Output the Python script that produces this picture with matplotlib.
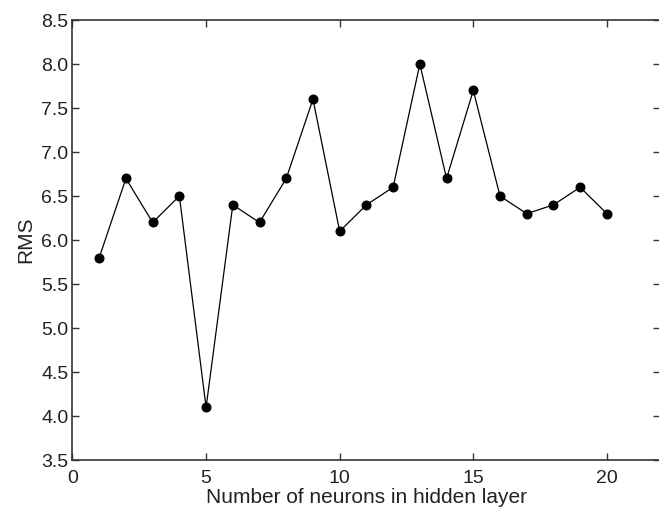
import matplotlib
matplotlib.use("Agg")
import matplotlib.pyplot as plt

plt.rcParams["font.family"] = ["Liberation Sans", "DejaVu Sans"]

neurons = list(range(1, 21))
rms = [5.8, 6.7, 6.2, 6.5, 4.1, 6.4, 6.2, 6.7, 7.6, 6.1,
       6.4, 6.6, 8.0, 6.7, 7.7, 6.5, 6.3, 6.4, 6.6, 6.3]

fig = plt.figure(figsize=(6.59, 5.13), dpi=100)
ax = fig.add_axes([0.110, 0.103, 0.892, 0.858])

ax.plot(neurons, rms, color="black", linewidth=0.9,
        marker="o", markersize=6.2, markerfacecolor="black",
        markeredgecolor="black")

ax.set_xlim(0, 22)
ax.set_ylim(3.5, 8.5)
ax.set_xticks([0, 5, 10, 15, 20])
ax.set_yticks([3.5, 4.0, 4.5, 5.0, 5.5, 6.0, 6.5, 7.0, 7.5, 8.0, 8.5])
ax.set_yticklabels(["3.5", "4.0", "4.5", "5.0", "5.5", "6.0", "6.5",
                    "7.0", "7.5", "8.0", "8.5"])

ax.tick_params(direction="in", length=5, width=1, top=True, right=True,
               labelsize=14, color="#333333", labelcolor="#222222")
ax.tick_params(axis="x", pad=7)
ax.tick_params(axis="y", pad=3)
for s in ax.spines.values():
    s.set_color("#333333")
    s.set_linewidth(1.2)

ax.set_xlabel("Number of neurons in hidden layer", fontsize=15, color="#222222", labelpad=1)
ax.set_ylabel("RMS", fontsize=15, color="#222222", labelpad=4)

fig.savefig("out.png", dpi=100)
